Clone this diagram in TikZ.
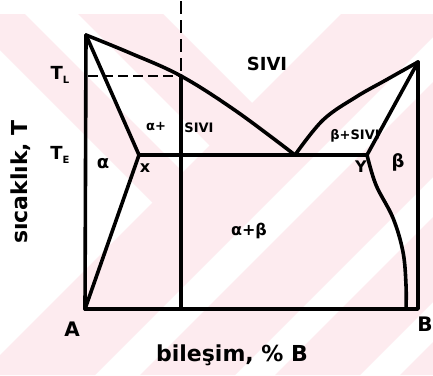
\documentclass[tikz,border=0pt]{standalone}
\usepackage{fontspec}
\setmainfont{DejaVu Sans}
\definecolor{pk}{RGB}{253,235,239}
\begin{document}
\begin{tikzpicture}[x=1pt,y=-1pt,
  ln/.style={line width=3.6pt,line join=round,line cap=round},
  dsh/.style={line width=2.8pt,dash pattern=on 10pt off 5pt},
  vdsh/.style={line width=2.8pt,dash pattern=on 13pt off 6pt},
  lb/.style={inner sep=0pt,font=\bfseries\fontsize{#1}{#1}\selectfont}]
\useasboundingbox (0,0) rectangle (433,375);
\fill[white] (0,0) rectangle (433,375);
% faint background pattern
\begin{scope}
  \clip (0,14) rectangle (433,375);
  \fill[pk] (-36,14) -- (25,14) -- (205.5,194.5) -- (175,225) -- cycle;
  \fill[pk] (78,14) -- (163,14) -- (256,107) -- (213.5,149.5) -- cycle;
  \fill[pk] (341,14) -- (456,14) -- (95,375) -- (-20,375) -- cycle;
  \fill[pk] (501,14) -- (596,14) -- (235,375) -- (140,375) -- cycle;
  \fill[pk] (636,14) -- (721,14) -- (360,375) -- (275,375) -- cycle;
  \fill[pk] (761,14) -- (900,14) -- (539,375) -- (400,375) -- cycle;
\end{scope}
% key points
\coordinate (Apk) at (86,35);
\coordinate (Bpk) at (418,62);
\coordinate (E) at (295,155);
\coordinate (X) at (139,155);
\coordinate (Y) at (367,155);
\coordinate (A0) at (85,309);
\coordinate (B0) at (418,309);
\coordinate (Bs) at (406,309);
\coordinate (TLw) at (88,76);
\coordinate (TLc) at (181,76);
\coordinate (Ct) at (181,1);
\coordinate (Cb) at (181,309);
% phase boundaries
\draw[ln] (A0) -- (Apk);
\draw[ln] (A0) -- (B0) -- (Bpk);
\draw[ln] (Apk) -- (X) -- (A0);
\draw[ln] (X) -- (Y);
\draw[ln] plot[smooth,tension=0.6] coordinates {(Apk) (130,53) (TLc) (236,111) (E)};
\draw[ln] plot[smooth,tension=0.6] coordinates {(E) (323,120) (356,97) (386,80) (Bpk)};
\draw[ln] (Bpk) -- (Y);
\draw[ln] plot[smooth,tension=0.6] coordinates {(Y) (376,185) (393,218) (403,252) (406,285) (Bs)};
\draw[ln] (TLc) -- (Cb);
\draw[dsh] (TLw) -- (TLc);
\draw[vdsh] (Ct) -- (TLc);
% labels
\node[lb=18] (sivi) at (267,64) {SIVI};
\node[lb=13] (a1) at (156,127) {α+};
\node[lb=13] (s1) at (199,128) {SIVI};
\node[lb=13] (bs) at (355,136) {β+SIVI};
\node[lb=18] (beta) at (398,162) {β};
\node[lb=18] (alpha) at (103,164) {α};
\node[lb=16] (xl) at (145,168) {x};
\node[lb=16] (yl) at (361,167) {Y};
\node[lb=16] (ab) at (249,231) {α+β};
\node[lb=18] (tl) at (60,75) {T\raisebox{-0.35ex}{\fontsize{10}{10}\selectfont L}};
\node[lb=18] (te) at (60,155) {T\raisebox{-0.35ex}{\fontsize{10}{10}\selectfont E}};
\node[lb=22,rotate=90] (ylab) at (21,182) {sıcaklık, T};
\node[lb=22] (xlab) at (232,355) {bileşim, \% B};
\node[lb=20] (A) at (72,329) {A};
\node[lb=20] (B) at (425,324) {B};
\end{tikzpicture}
\end{document}
